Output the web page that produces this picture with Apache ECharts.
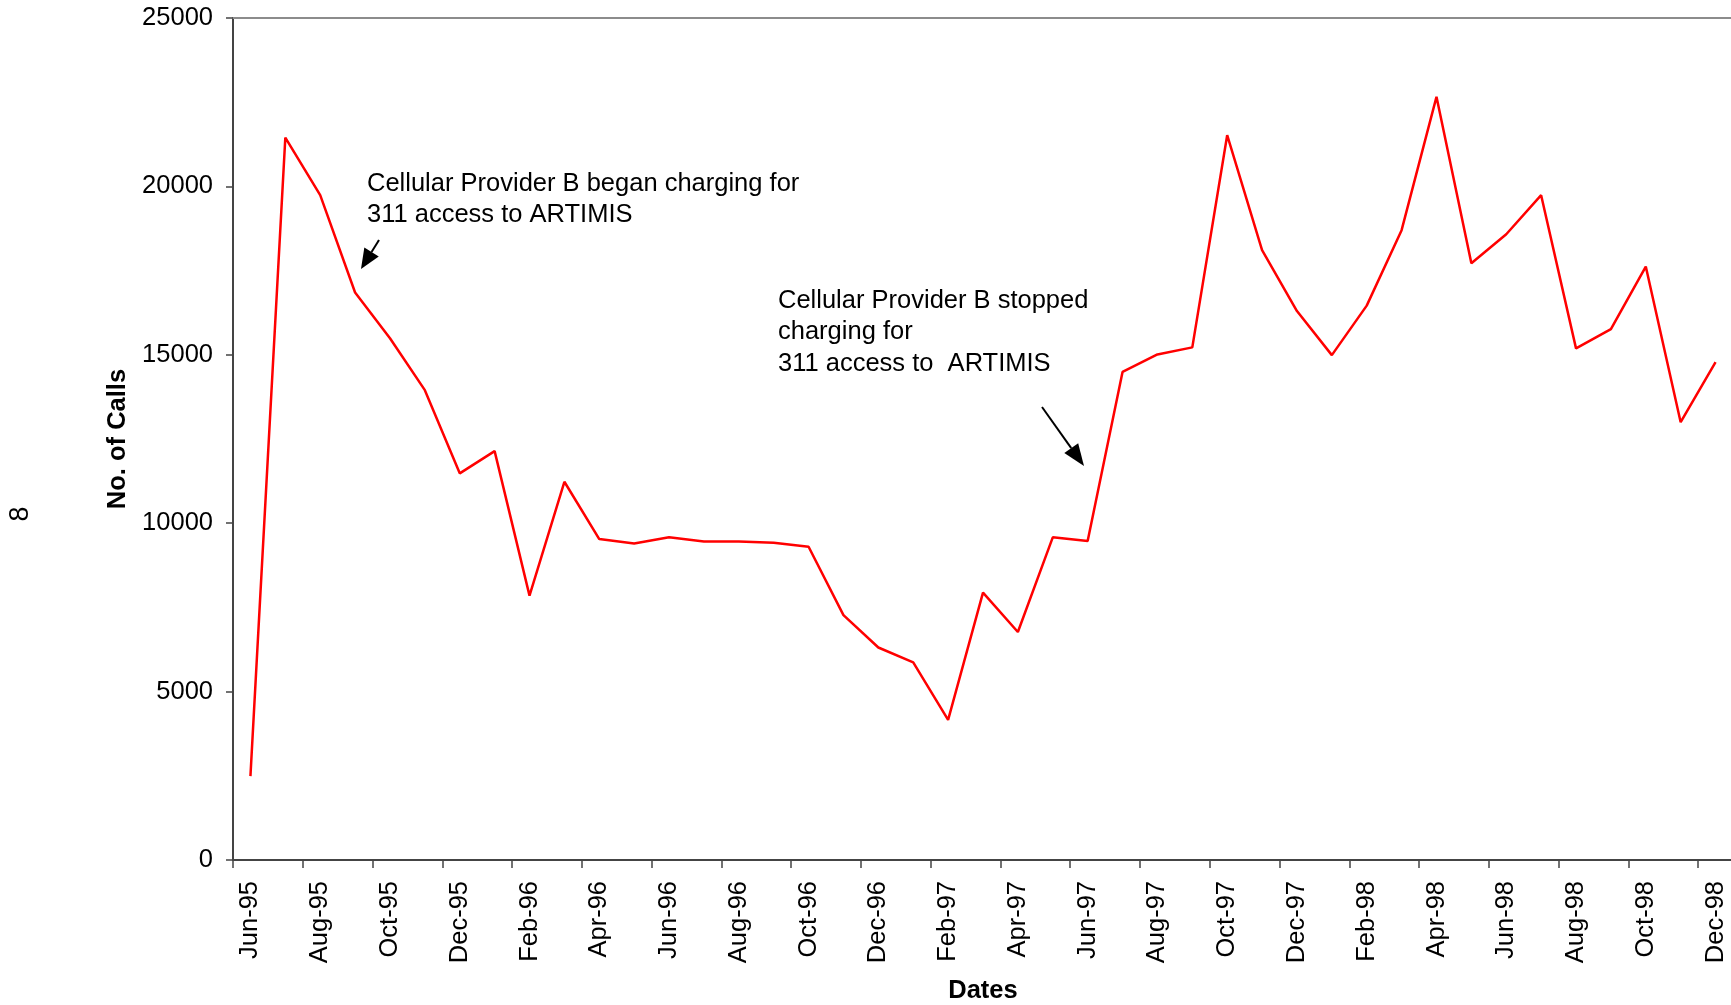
<!DOCTYPE html>
<html>
<head>
<meta charset="utf-8">
<script src="https://cdn.jsdelivr.net/npm/echarts@6/dist/echarts.min.js"></script>
<style>
  html, body { margin: 0; padding: 0; background: #fff; }
  #chart { width: 1731px; height: 1005px; }
</style>
</head>
<body>
<div id="chart"></div>
<script>
const months = [
  'Jun-95', 'Jul-95', 'Aug-95', 'Sep-95', 'Oct-95', 'Nov-95', 'Dec-95',
  'Jan-96', 'Feb-96', 'Mar-96', 'Apr-96', 'May-96', 'Jun-96', 'Jul-96', 'Aug-96', 'Sep-96', 'Oct-96', 'Nov-96', 'Dec-96',
  'Jan-97', 'Feb-97', 'Mar-97', 'Apr-97', 'May-97', 'Jun-97', 'Jul-97', 'Aug-97', 'Sep-97', 'Oct-97', 'Nov-97', 'Dec-97',
  'Jan-98', 'Feb-98', 'Mar-98', 'Apr-98', 'May-98', 'Jun-98', 'Jul-98', 'Aug-98', 'Sep-98', 'Oct-98', 'Nov-98', 'Dec-98'
]

const calls = [
  2490, 21450, 19740, 16850, 15490, 13950, 11480,
  12140, 7850, 11230, 9530, 9400, 9580, 9460, 9460, 9420, 9300, 7270, 6310,
  5870, 4160, 7940, 6770, 9580, 9470, 14490, 15010, 15220, 21520, 18110, 16300,
  14990, 16460, 18700, 22660, 17720, 18580, 19740, 15190, 15760, 17620, 13000, 14780
]

const yTicks = { min: 0, max: 25000, interval: 5000 }

const noteBegan = 'Cellular Provider B began charging for\n311 access to ARTIMIS'
const noteStopped = 'Cellular Provider B stopped\ncharging for\n311 access to  ARTIMIS'

const FONT = '"Liberation Sans", Arial, sans-serif'
const FS = 25.5

// line with a filled triangle head at (x2, y2)
function arrow(x1, y1, x2, y2, headLen, headWidth) {
  const dx = x2 - x1
  const dy = y2 - y1
  const len = Math.sqrt(dx * dx + dy * dy)
  const ux = dx / len
  const uy = dy / len
  const bx = x2 - ux * headLen
  const by = y2 - uy * headLen
  const px = -uy * headWidth / 2
  const py = ux * headWidth / 2
  return [
    {
      type: 'line',
      shape: { x1: x1, y1: y1, x2: bx, y2: by },
      style: { stroke: '#000', lineWidth: 2 },
    },
    {
      type: 'polygon',
      shape: { points: [[x2, y2], [bx + px, by + py], [bx - px, by - py]] },
      style: { fill: '#000' },
    },
  ]
}

const myChart = echarts.init(document.getElementById('chart'))

const option = {
  backgroundColor: '#fff',
  animation: false,
  grid: { left: 233, top: 18, right: -2, bottom: 145, outerBoundsMode: 'none', containLabel: false },
  xAxis: [
    {
      type: 'category',
      data: months,
      boundaryGap: true,
      name: 'Dates',
      nameLocation: 'middle',
      nameGap: 118,
      nameTextStyle: { fontFamily: FONT, fontSize: FS, fontWeight: 'bold', color: '#000' },
      axisLine: { lineStyle: { color: '#444', width: 2 } },
      axisTick: { show: true, interval: 1, length: 8, lineStyle: { color: '#444', width: 1.5 } },
      axisLabel: {
        interval: 1,
        rotate: 90,
        margin: 21,
        fontFamily: FONT,
        fontSize: FS,
        color: '#000',
      },
      splitLine: { show: false },
    },
    {
      type: 'category',
      data: months,
      position: 'top',
      axisLine: { show: true, lineStyle: { color: '#8c8c8c', width: 2 } },
      axisTick: { show: false },
      axisLabel: { show: false },
      splitLine: { show: false },
    },
  ],
  yAxis: {
    type: 'value',
    min: yTicks.min,
    max: yTicks.max,
    interval: yTicks.interval,
    name: 'No. of Calls',
    nameLocation: 'middle',
    nameGap: 101,
    nameTextStyle: { fontFamily: FONT, fontSize: FS, fontWeight: 'bold', color: '#000' },
    axisLine: { show: true, lineStyle: { color: '#444', width: 2 } },
    axisTick: { show: true, length: 7, lineStyle: { color: '#444', width: 1.5 } },
    axisLabel: {
      margin: 20,
      fontFamily: FONT,
      fontSize: FS,
      color: '#000',
      formatter: function (v) { return String(v) },
    },
    splitLine: { show: false },
  },
  series: [
    {
      name: 'No. of Calls',
      type: 'line',
      data: calls,
      symbol: 'none',
      lineStyle: { color: '#ff0000', width: 2.5 },
      itemStyle: { color: '#ff0000' },
    },
  ],
  graphic: [
    {
      type: 'text',
      x: 367,
      y: 168,
      style: { text: noteBegan, font: FS + 'px ' + FONT, lineHeight: 31, fill: '#000' },
    },
    {
      type: 'text',
      x: 778,
      y: 285,
      style: { text: noteStopped, font: FS + 'px ' + FONT, lineHeight: 31.5, fill: '#000' },
    },
    {
      type: 'group',
      children: arrow(379, 240, 361, 269, 20, 17),
    },
    {
      type: 'group',
      children: arrow(1042, 407, 1084, 466, 22, 17),
    },
    {
      type: 'text',
      x: 21,
      y: 514,
      rotation: Math.PI / 2,
      style: { text: '8', font: '27px ' + FONT, fill: '#000', align: 'center', verticalAlign: 'middle' },
    },
  ],
}

option && myChart.setOption(option)
</script>
</body>
</html>
